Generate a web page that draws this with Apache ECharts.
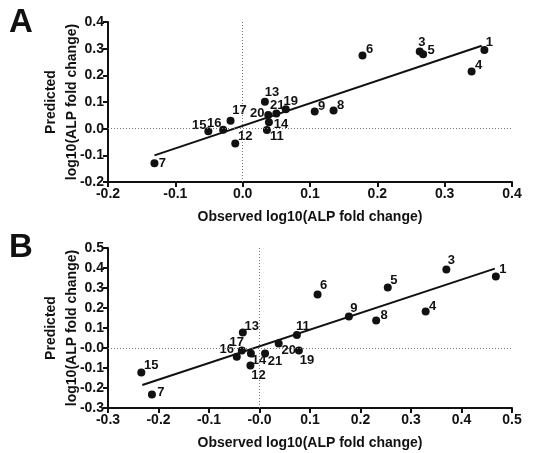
<!DOCTYPE html>
<html>
<head>
<meta charset="utf-8">
<script src="https://cdn.jsdelivr.net/npm/echarts@6/dist/echarts.min.js"></script>
<style>
html,body{margin:0;padding:0;background:#fff;}
#c{width:538px;height:453px;}
</style>
</head>
<body>
<div id="c"></div>
<script>
// ---- data ----
const ids = [1,3,4,5,6,7,8,9,11,12,13,14,15,16,17,19,20,21];
const aObserved  = [0.359,0.263,0.340,0.268,0.178,-0.131,0.135,0.107,0.036,-0.011,0.033,0.039,-0.051,-0.029,-0.018,0.064,0.038,0.050];
const aPredicted = [0.295,0.289,0.214,0.279,0.274,-0.130,0.068,0.064,-0.005,-0.056,0.101,0.024,-0.010,-0.004,0.030,0.073,0.051,0.057];
const bObserved  = [0.468,0.370,0.329,0.254,0.115,-0.213,0.231,0.177,0.074,-0.018,-0.033,-0.017,-0.234,-0.045,-0.035,0.078,0.038,0.011];
const bPredicted = [0.357,0.393,0.183,0.303,0.267,-0.232,0.137,0.157,0.065,-0.087,0.077,-0.028,-0.123,-0.044,-0.013,-0.013,0.023,-0.027];
const aFitX = [-0.131, 0.355];
const aFitY = [-0.100, 0.311];
const bFitX = [-0.232, 0.466];
const bFitY = [-0.185, 0.397];
const aXTicks = ['-0.2','-0.1','0.0','0.1','0.2','0.3','0.4'];
const aYTicks = ['-0.2','-0.1','0.0','0.1','0.2','0.3','0.4'];
const bXTicks = ['-0.3','-0.2','-0.1','-0.0','0.1','0.2','0.3','0.4','0.5'];
const bYTicks = ['-0.3','-0.2','-0.1','-0.0','0.1','0.2','0.3','0.4','0.5'];
const xTitle = 'Observed log10(ALP fold change)';
const yTitle = 'Predicted\nlog10(ALP fold change)';

// ---- label placement (style only: pixel offsets of label centre from dot) ----
const aLabelOff = {1:[5,-8],3:[2,-9],4:[7,-6],5:[8,-4],6:[7,-6],7:[8,0],8:[7,-5],9:[7,-5],11:[10,6],12:[10,-7],13:[7,-9],14:[12,2],15:[-9,-6],16:[-9,-6],17:[9,-10],19:[5,-8],20:[-11,-2],21:[1,-8]};
const bLabelOff = {1:[7,-7],3:[5,-9],4:[7,-5],5:[6,-7],6:[6,-9],7:[9,-2],8:[8,-5],9:[5,-8],11:[6,-9],12:[8,10],13:[9,-6],14:[8,7],15:[10,-7],16:[-10,-7],17:[-5,-8],19:[8,10],20:[10,7],21:[10,8]};

const FONT = '"Liberation Sans", Arial, sans-serif';
const INK = '#111111';

function pts(xs, ys, off){
  return ids.map((id,i)=>({
    value:[xs[i], ys[i]],
    label:{show:true, formatter:String(id), position:'inside', offset:off[id],
      color:INK, opacity:1, fontFamily:FONT, fontWeight:'bold', fontSize:13}
  }));
}
function xAxisCfg(idx, min, max, ticks){
  return {gridIndex:idx, type:'value', min:min, max:max, interval:0.1,
    name:xTitle, nameLocation:'middle', nameGap:28, nameMoveOverlap:false,
    nameTextStyle:{color:INK, fontFamily:FONT, fontWeight:'bold', fontSize:14},
    axisLine:{onZero:false, lineStyle:{color:INK, width:2}},
    axisTick:{show:true, length:5, lineStyle:{color:INK, width:2}},
    axisLabel:{color:INK, fontFamily:FONT, fontWeight:'bold', fontSize:14, margin:5,
      formatter:(v,i)=>ticks[i]},
    splitLine:{show:false}};
}
function yAxisCfg(idx, min, max, ticks){
  return {gridIndex:idx, type:'value', min:min, max:max, interval:0.1,
    name:yTitle, nameLocation:'middle', nameGap:25, nameRotate:90, nameMoveOverlap:false,
    nameTextStyle:{color:INK, fontFamily:FONT, fontWeight:'bold', fontSize:14, lineHeight:21, align:'center'},
    axisLine:{onZero:false, lineStyle:{color:INK, width:2}},
    axisTick:{show:true, length:5, lineStyle:{color:INK, width:2}},
    axisLabel:{color:INK, fontFamily:FONT, fontWeight:'bold', fontSize:14, margin:4,
      formatter:(v,i)=>ticks[i]},
    splitLine:{show:false}};
}
const zeroLines = {silent:true, symbol:['none','none'], label:{show:false},
  lineStyle:{type:[1,2], color:'#777', width:1},
  data:[{xAxis:0},{yAxis:0}], animation:false};

const chart = echarts.init(document.getElementById('c'), null, {renderer:'canvas'});
chart.setOption({
  animation:false,
  backgroundColor:'#fff',
  grid:[
    {left:108, top:22, width:404, height:160},
    {left:108, top:248, width:404, height:160}
  ],
  xAxis:[xAxisCfg(0,-0.2,0.4,aXTicks), xAxisCfg(1,-0.3,0.5,bXTicks)],
  yAxis:[yAxisCfg(0,-0.2,0.4,aYTicks), yAxisCfg(1,-0.3,0.5,bYTicks)],
  graphic:[
    {type:'text', left:9, top:6, style:{text:'A', fill:'#111', font:'bold 33px '+FONT}},
    {type:'text', left:9, top:231, style:{text:'B', fill:'#111', font:'bold 33px '+FONT}}
  ],
  series:[
    {type:'scatter', xAxisIndex:0, yAxisIndex:0, symbol:'circle', symbolSize:8,
      itemStyle:{color:INK, opacity:1}, data:pts(aObserved,aPredicted,aLabelOff), markLine:zeroLines, z:3},
    {type:'line', xAxisIndex:0, yAxisIndex:0, showSymbol:false, symbol:'none',
      lineStyle:{color:INK, width:2}, data:aFitX.map((x,i)=>[x,aFitY[i]]), z:2},
    {type:'scatter', xAxisIndex:1, yAxisIndex:1, symbol:'circle', symbolSize:8,
      itemStyle:{color:INK, opacity:1}, data:pts(bObserved,bPredicted,bLabelOff), markLine:zeroLines, z:3},
    {type:'line', xAxisIndex:1, yAxisIndex:1, showSymbol:false, symbol:'none',
      lineStyle:{color:INK, width:2}, data:bFitX.map((x,i)=>[x,bFitY[i]]), z:2}
  ]
});
</script>
</body>
</html>
